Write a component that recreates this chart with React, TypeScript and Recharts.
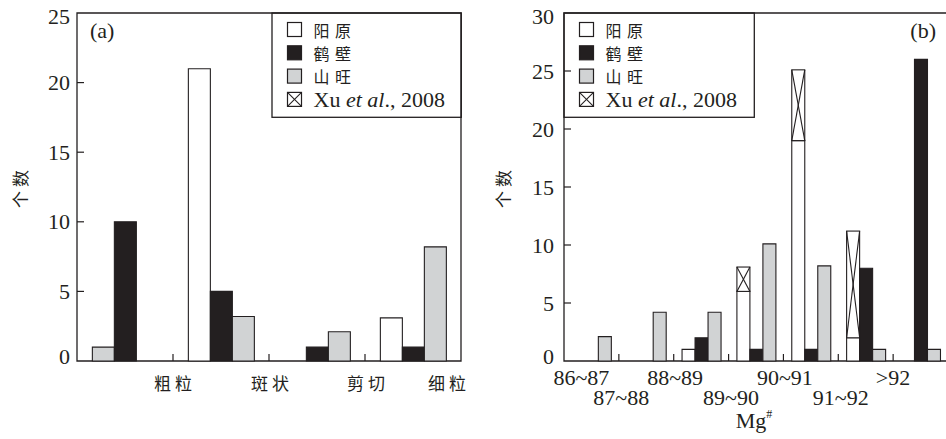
import React from "react";
import { BarChart, Bar, XAxis, YAxis, ReferenceArea, Legend } from "recharts";

const INK = "#231f20";
const GRAY = "#d1d3d4";
const SERIF = '"Liberation Serif", "Times New Roman", serif';
const CJK = '"Noto Sans CJK SC", "Noto Sans CJK JP", sans-serif';

// (a) 结构类型
const CATS_A = ["粗粒", "斑状", "剪切", "细粒"];
const YANGYUAN_A = [0, 21, 0, 3.1];
const HEBI_A = [10, 5, 1, 1];
const SHANWANG_A = [0, 3.2, 2.1, 8.2];
// 粗粒 的山旺柱画在第一格
const SHANWANG_A_LEAD = [1, 0, 0, 0];
const TICKS_A = [0, 5, 10, 15, 20, 25];

// (b) Mg# 区间
const BINS_B = ["86~87", "87~88", "88~89", "89~90", "90~91", "91~92", ">92"];
const YANGYUAN_B = [0, 0, 1, 6, 19, 2, 0];
const XU_B = [0, 0, 0, 2.1, 6.1, 9.2, 0];
const HEBI_B = [0, 0, 2, 1, 1, 8, 26];
const SHANWANG_B = [2.1, 4.2, 4.2, 10.1, 8.2, 1, 1];
const TICKS_B = [0, 5, 10, 15, 20, 25, 30];

const rowsA = CATS_A.map((name, i) => ({
  name,
  yy: YANGYUAN_A[i],
  lead: SHANWANG_A_LEAD[i],
  hb: HEBI_A[i],
  sw: SHANWANG_A[i],
}));

const rowsB = BINS_B.map((name, i) => ({
  name,
  yy: YANGYUAN_B[i],
  xu: XU_B[i],
  hb: HEBI_B[i],
  sw: SHANWANG_B[i],
}));

// layout
const H = 439;
const TOP = 13;
const X_AXIS_H = 78;
const A_W = 470;
const A_AXIS_W = 77;
const A_RIGHT = 9;
const B_W = 472;
const B_AXIS_W = 88;
const BAND_A = (A_W - A_AXIS_W - A_RIGHT) / CATS_A.length;
const BAND_B = (B_W - B_AXIS_W) / BINS_B.length;
const LABEL_SHIFT_A = [48, 49, 49, 34];
const LABEL_SHIFT_B = [-10, -25, -26, -25, -26, -25, -27.5];

const barStroke = { stroke: INK, strokeWidth: 1.1 };

function YTick(props: any) {
  const { x = 0, y = 0, payload, top, gap } = props;
  const v = payload?.value;
  const nudge = v === 0 ? -5 : v === top ? 3 : 0;
  return (
    <g>
      {v !== 0 && v !== top && (
        <line x1={x} x2={x + 7} y1={y} y2={y} stroke={INK} strokeWidth={1.2} />
      )}
      <text x={x - gap} y={y + 7.5 + nudge} textAnchor="end" fontFamily={SERIF} fontSize={22} fill={INK}>
        {v}
      </text>
    </g>
  );
}

function CatTickA(props: any) {
  const { x = 0, y = 0, payload, index = 0 } = props;
  return (
    <g>
      {index < CATS_A.length - 1 && (
        <line x1={x + BAND_A / 2} x2={x + BAND_A / 2} y1={y} y2={y - 7} stroke={INK} strokeWidth={1.2} />
      )}
      <text
        x={x + LABEL_SHIFT_A[index] + 2}
        y={y + 21.5}
        textAnchor="middle"
        dominantBaseline="central"
        fontFamily={CJK}
        fontSize={17}
        letterSpacing={4}
        fill={INK}
      >
        {payload?.value}
      </text>
    </g>
  );
}

function BinTickB(props: any) {
  const { x = 0, y = 0, payload, index = 0 } = props;
  return (
    <g>
      {index < BINS_B.length - 1 && (
        <line x1={x + BAND_B / 2} x2={x + BAND_B / 2} y1={y} y2={y - 7} stroke={INK} strokeWidth={1.2} />
      )}
      <text
        x={x + LABEL_SHIFT_B[index]}
        y={y + (index % 2 === 0 ? 24 : 44)}
        textAnchor="middle"
        fontFamily={SERIF}
        fontSize={22}
        fill={INK}
      >
        {payload?.value}
      </text>
    </g>
  );
}

function CountTitle(props: any) {
  const vb = props.viewBox || { x: 0, y: TOP, width: 0, height: H - TOP - X_AXIS_H };
  const cx = vb.x + props.dx;
  const cy = vb.y + vb.height / 2;
  return (
    <text
      x={cx}
      y={cy}
      transform={`rotate(-90 ${cx} ${cy})`}
      textAnchor="middle"
      dominantBaseline="central"
      fontFamily={CJK}
      fontSize={17}
      letterSpacing={4}
      fill={INK}
    >
      个数
    </text>
  );
}

function MgTitle(props: any) {
  const vb = props.viewBox || { x: B_AXIS_W, y: H - X_AXIS_H, width: B_W - B_AXIS_W };
  return (
    <text x={vb.x + vb.width / 2 - 2} y={vb.y + 67} textAnchor="middle" fontFamily={SERIF} fontSize={22} fill={INK}>
      Mg
      <tspan fontSize={12} dy={-10}>#</tspan>
    </text>
  );
}

function PanelTag(props: any) {
  const vb = props.viewBox || { x: 0, y: TOP, width: 0 };
  const left = props.side === "left";
  return (
    <text
      x={left ? vb.x + 13 : vb.x + vb.width - 12}
      y={vb.y + 24.5}
      textAnchor={left ? "start" : "end"}
      fontFamily={SERIF}
      fontSize={22}
      fill={INK}
    >
      {props.text}
    </text>
  );
}

function CrossedBar(props: any) {
  const { x, y, width, height } = props;
  if (!height || !width) return <g />;
  return (
    <g stroke={INK} strokeWidth={1.1}>
      <rect x={x} y={y} width={width} height={height} fill="#fff" />
      <line x1={x} y1={y} x2={x + width} y2={y + height} />
      <line x1={x + width} y1={y} x2={x} y2={y + height} />
    </g>
  );
}

const KEYS = [
  { label: "阳原", kind: "white" },
  { label: "鹤壁", kind: "black" },
  { label: "山旺", kind: "gray" },
  { label: "Xu", kind: "cross" },
];

function KeyBox({ width }: { width: number }) {
  const rows = [16.5, 39.8, 63.1, 86.4];
  return (
    <svg width={width + 2} height={107} style={{ display: "block", overflow: "visible" }}>
      <rect x={1} y={1} width={width} height={104.3} fill="none" stroke={INK} strokeWidth={1.3} />
      {KEYS.map((k, i) => {
        const cy = 1 + rows[i];
        const ix = 16.5;
        return (
          <g key={k.label}>
            <rect
              x={ix}
              y={cy - 7}
              width={14}
              height={14}
              fill={k.kind === "black" ? INK : k.kind === "gray" ? GRAY : "#fff"}
              stroke={INK}
              strokeWidth={1.2}
            />
            {k.kind === "cross" && (
              <g stroke={INK} strokeWidth={1.1}>
                <line x1={ix} y1={cy - 7} x2={ix + 14} y2={cy + 7} />
                <line x1={ix + 14} y1={cy - 7} x2={ix} y2={cy + 7} />
              </g>
            )}
            {k.kind === "cross" ? (
              <text x={42.5} y={cy + 7.5} fontFamily={SERIF} fontSize={22} fill={INK}>
                {"Xu "}
                <tspan fontStyle="italic">et al</tspan>
                {"., 2008"}
              </text>
            ) : (
              <text
                x={42.5}
                y={cy}
                dominantBaseline="central"
                fontFamily={CJK}
                fontSize={16}
                letterSpacing={5.5}
                fill={INK}
              >
                {k.label}
              </text>
            )}
          </g>
        );
      })}
    </svg>
  );
}

export default function App() {
  return (
    <div
      style={{
        position: "absolute",
        left: 0,
        top: 0,
        width: 946,
        height: H,
        overflow: "hidden",
        background: "#fff",
      }}
    >
      <div style={{ position: "absolute", left: 0, top: 0 }}>
        <BarChart
          width={A_W}
          height={H}
          data={rowsA}
          margin={{ top: TOP, right: A_RIGHT, bottom: 0, left: 0 }}
          barGap={0}
          barCategoryGap="16%"
        >
          <XAxis
            dataKey="name"
            height={X_AXIS_H}
            axisLine={false}
            tickLine={false}
            tickSize={0}
            tickMargin={0}
            interval={0}
            tick={<CatTickA />}
          />
          <YAxis
            type="number"
            domain={[0, 25]}
            ticks={TICKS_A}
            interval={0}
            width={A_AXIS_W}
            axisLine={false}
            tickLine={false}
            tickSize={0}
            tickMargin={0}
            tick={<YTick top={25} gap={7} />}
            label={<CountTitle dx={19} />}
          />
          <ReferenceArea
            y1={0}
            y2={25}
            fill="none"
            fillOpacity={0}
            stroke={INK}
            strokeWidth={1.3}
            ifOverflow="visible"
            label={<PanelTag text="(a)" side="left" />}
          />
          <Bar dataKey="yy" stackId="first" fill="#fff" {...barStroke} isAnimationActive={false} />
          <Bar dataKey="lead" stackId="first" fill={GRAY} {...barStroke} isAnimationActive={false} />
          <Bar dataKey="hb" fill={INK} {...barStroke} isAnimationActive={false} />
          <Bar dataKey="sw" fill={GRAY} {...barStroke} isAnimationActive={false} />
          <Legend
            layout="horizontal"
            verticalAlign="middle"
            align="center"
            wrapperStyle={{ position: "absolute", left: 270.7, top: 12, width: 192, height: 107 }}
            content={() => <KeyBox width={189.3} />}
          />
        </BarChart>
      </div>

      <div style={{ position: "absolute", left: 476, top: 0 }}>
        <BarChart
          width={B_W}
          height={H}
          data={rowsB}
          margin={{ top: TOP, right: 0, bottom: 0, left: 0 }}
          barGap={0}
          barCategoryGap="15.2%"
        >
          <XAxis
            dataKey="name"
            height={X_AXIS_H}
            axisLine={false}
            tickLine={false}
            tickSize={0}
            tickMargin={0}
            interval={0}
            tick={<BinTickB />}
            label={<MgTitle />}
          />
          <YAxis
            type="number"
            domain={[0, 30]}
            ticks={TICKS_B}
            interval={0}
            width={B_AXIS_W}
            axisLine={false}
            tickLine={false}
            tickSize={0}
            tickMargin={0}
            tick={<YTick top={30} gap={10} />}
            label={<CountTitle dx={26.5} />}
          />
          <ReferenceArea
            y1={0}
            y2={30}
            fill="none"
            fillOpacity={0}
            stroke={INK}
            strokeWidth={1.3}
            ifOverflow="visible"
            label={<PanelTag text="(b)" side="right" />}
          />
          <Bar dataKey="yy" stackId="w" fill="#fff" {...barStroke} isAnimationActive={false} />
          <Bar dataKey="xu" stackId="w" shape={(p: any) => <CrossedBar {...p} />} isAnimationActive={false} />
          <Bar dataKey="hb" fill={INK} {...barStroke} isAnimationActive={false} />
          <Bar dataKey="sw" fill={GRAY} {...barStroke} isAnimationActive={false} />
          <Legend
            layout="horizontal"
            verticalAlign="middle"
            align="center"
            wrapperStyle={{ position: "absolute", left: 87, top: 12, width: 193, height: 107 }}
            content={() => <KeyBox width={190.3} />}
          />
        </BarChart>
      </div>
    </div>
  );
}
